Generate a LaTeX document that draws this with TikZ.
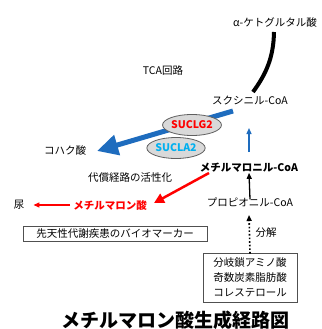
\documentclass[tikz,border=0pt]{standalone}
\usepackage{fontspec}
\setmainfont{Noto Sans CJK JP}
\usetikzlibrary{arrows.meta,shapes.geometric}
\definecolor{bigblue}{RGB}{30,108,190}
\definecolor{skyblue}{RGB}{0,176,240}
\definecolor{elfill}{RGB}{217,217,217}
\definecolor{eldraw}{RGB}{95,95,95}
\definecolor{boxdraw}{RGB}{80,80,80}
\newcommand{\fsnorm}{\fontsize{10.5}{12.6}\selectfont}
\tikzset{
  txt/.style={inner sep=0pt, font=\fsnorm},
  enz/.style={ellipse, draw=eldraw, line width=0.8pt, fill=elfill, minimum width=54pt, minimum height=21pt, inner sep=0pt, font=\fsnorm\bfseries},
  framebox/.style={draw=boxdraw, line width=0.9pt, inner sep=0pt, font=\fsnorm},
  thinarrow/.style={line width=1.3pt, -{Triangle[length=6pt,width=5pt]}}
}
\begin{document}
\begin{tikzpicture}[x=1pt,y=-1pt]
\useasboundingbox (0,0) rectangle (321,329);
% texts
\node[txt] (akg) at (275,23) {α-ケトグルタル酸};
\node[txt] (tca) at (163,70) {TCA回路};
\node[txt] (scoa) at (250,100) {スクシニル-CoA};
\node[txt] (succ) at (65,150) {コハク酸};
\node[txt,font=\fsnorm\bfseries] (mmcoa) at (249,168) {メチルマロニル-CoA};
\node[txt] (comp) at (130,178) {代償経路の活性化};
\node[txt] (urine) at (19,205) {尿};
\node[txt,font=\fsnorm\bfseries,text=red] (mma) at (110,205) {メチルマロン酸};
\node[txt] (pcoa) at (250,202) {プロピオニル-CoA};
\node[framebox,minimum width=184pt,minimum height=15.5pt] (bio) at (115,234) {先天性代謝疾患のバイオマーカー};
\node[txt] (decomp) at (266,233) {分解};
\node[framebox,minimum width=94pt,minimum height=49pt,align=center,font=\fontsize{10.5}{15}\selectfont] (src) at (250,277.5) {分岐鎖アミノ酸\\奇数炭素脂肪酸\\コレステロール};
\node[inner sep=0pt,font=\fontsize{19}{21}\selectfont\bfseries] (title) at (175,320) {メチルマロン酸生成経路図};
% coordinates
\coordinate (k1) at (274,32);
\coordinate (k2) at (253,92);
\coordinate (b1) at (233,111);
\coordinate (b2) at (97,151);
% connectors
\draw[line width=4pt] (k1) .. controls (273.5,58) and (266,74) .. (k2);
\draw[bigblue, line width=5pt, -{Triangle[length=21pt,width=20pt]}] (b1) -- (b2);
\node[enz,text=red] (g2) at (192,125) {SUCLG2};
\node[enz,text=skyblue] (a2) at (176,148) {SUCLA2};
\draw[bigblue, thinarrow] (249,152) -- (249,128);
\draw[red, line width=2.5pt, -{Triangle[length=10pt,width=10pt]}] (209,173) -- (154,203);
\draw[red, thinarrow] ([xshift=-3pt]mma.west) -- ([xshift=9pt]urine.east);
\draw[black, thinarrow] ([yshift=-2pt]pcoa.north) -- (mmcoa.south);
\draw[black, line width=1.6pt, dotted, -{Triangle[length=6pt,width=5pt]}] ([yshift=-1pt]src.north) -- (249,215);
\end{tikzpicture}
\end{document}
